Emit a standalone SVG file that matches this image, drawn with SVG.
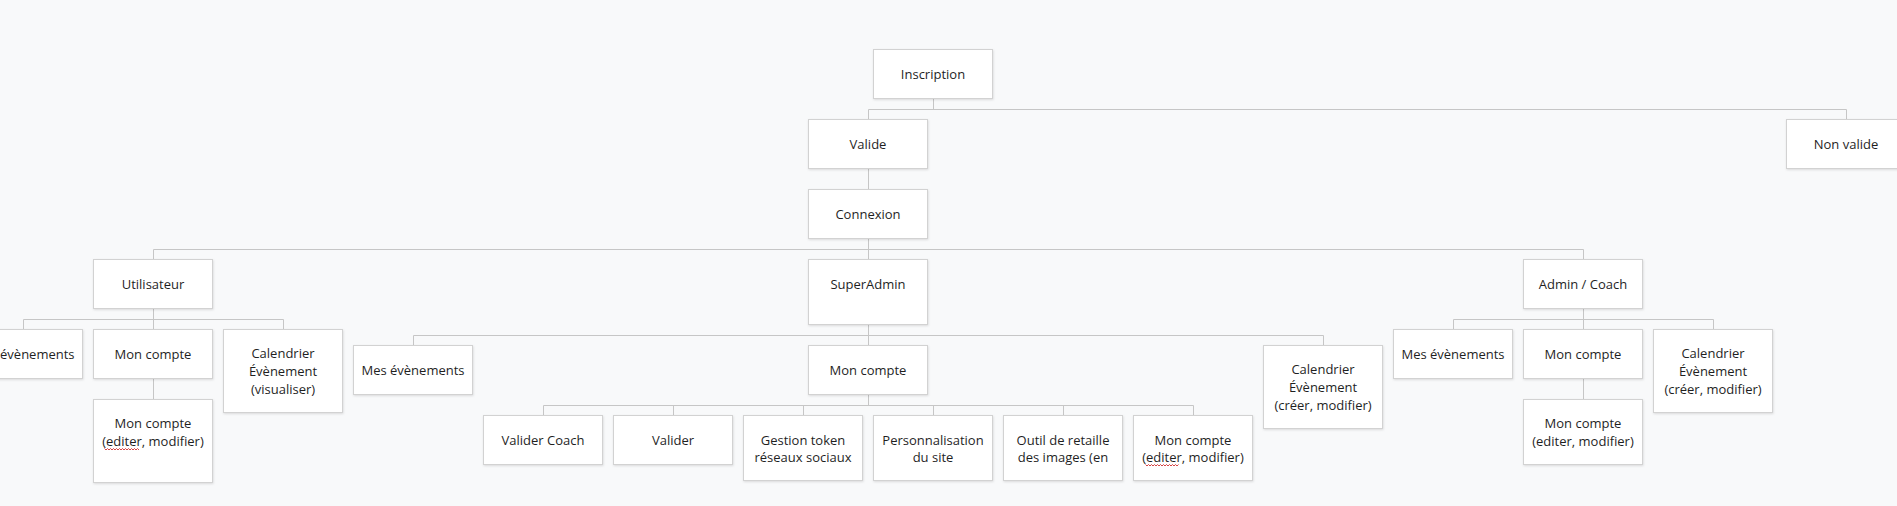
<svg xmlns="http://www.w3.org/2000/svg" width="1897" height="506" viewBox="0 0 1897 506">
<defs>
<style>
.box{fill:#ffffff;stroke:#d2d2d2;stroke-width:1}
.t{font-family:"Open Sans","Noto Sans","Liberation Sans",sans-serif;font-size:13px;fill:#1f1f1f;text-anchor:middle}
.c{fill:none;stroke:#c6c6c6;stroke-width:1}
.sq{fill:none;stroke:#d03030;stroke-width:0.9}
</style>
<filter id="sh" x="-10%" y="-10%" width="130%" height="140%">
<feDropShadow dx="0.5" dy="1" stdDeviation="0.8" flood-color="#000000" flood-opacity="0.12"/>
</filter>
</defs>
<rect x="0" y="0" width="1897" height="506" fill="#f8f9fa"/>
<g id="connectors" class="c">
<path d="M933.5 98.5V109.5M868.5 109.5H1846.5M868.5 109.5V119.5M1846.5 109.5V119.5"/>
<path d="M868.5 168.5V189.5"/>
<path d="M868.5 238.5V249.5M153.5 249.5H1583.5M153.5 249.5V259.5M868.5 249.5V259.5M1583.5 249.5V259.5"/>
<path d="M153.5 308.5V319.5M23.5 319.5H283.5M23.5 319.5V329.5M153.5 319.5V329.5M283.5 319.5V329.5"/>
<path d="M153.5 378.5V399.5"/>
<path d="M868.5 324.5V335.5M413.5 335.5H1323.5M413.5 335.5V345.5M868.5 335.5V345.5M1323.5 335.5V345.5"/>
<path d="M868.5 394.5V405.5M543.5 405.5H1193.5M543.5 405.5V415.5M673.5 405.5V415.5M803.5 405.5V415.5M933.5 405.5V415.5M1063.5 405.5V415.5M1193.5 405.5V415.5"/>
<path d="M1583.5 308.5V319.5M1453.5 319.5H1713.5M1453.5 319.5V329.5M1583.5 319.5V329.5M1713.5 319.5V329.5"/>
<path d="M1583.5 378.5V399.5"/>
</g>
<g id="inscription"><rect class="box" filter="url(#sh)" x="873.5" y="49.5" width="119" height="49"/><text class="t" x="933" y="78.5">Inscription</text></g>
<g id="valide"><rect class="box" filter="url(#sh)" x="808.5" y="119.5" width="119" height="49"/><text class="t" x="868" y="148.5">Valide</text></g>
<g id="non-valide"><rect class="box" filter="url(#sh)" x="1786.5" y="119.5" width="119" height="49"/><text class="t" x="1846" y="148.5">Non valide</text></g>
<g id="connexion"><rect class="box" filter="url(#sh)" x="808.5" y="189.5" width="119" height="49"/><text class="t" x="868" y="218.5">Connexion</text></g>
<g id="utilisateur"><rect class="box" filter="url(#sh)" x="93.5" y="259.5" width="119" height="49"/><text class="t" x="153" y="288.5">Utilisateur</text></g>
<g id="superadmin"><rect class="box" filter="url(#sh)" x="808.5" y="259.5" width="119" height="65"/><text class="t" x="868" y="288.5">SuperAdmin</text></g>
<g id="admin-coach"><rect class="box" filter="url(#sh)" x="1523.5" y="259.5" width="119" height="49"/><text class="t" x="1583" y="288.5">Admin / Coach</text></g>
<g id="u-mes-evenements"><rect class="box" filter="url(#sh)" x="-36.5" y="329.5" width="119" height="49"/><text class="t" x="23" y="358.5">Mes évènements</text></g>
<g id="u-mon-compte"><rect class="box" filter="url(#sh)" x="93.5" y="329.5" width="119" height="49"/><text class="t" x="153" y="358.5">Mon compte</text></g>
<g id="u-calendrier"><rect class="box" filter="url(#sh)" x="223.5" y="329.5" width="119" height="83"/><text class="t" x="283" y="358">Calendrier</text><text class="t" x="283" y="376">Évènement</text><text class="t" x="283" y="394">(visualiser)</text></g>
<g id="u-mon-compte-edit"><rect class="box" filter="url(#sh)" x="93.5" y="399.5" width="119" height="83"/><text class="t" x="153" y="428">Mon compte</text><text class="t" x="153" y="446">(editer, modifier)</text><path class="sq" d="M104.5 448.5l1.5 1.5 1.5-1.5 1.5 1.5 1.5-1.5 1.5 1.5 1.5-1.5 1.5 1.5 1.5-1.5 1.5 1.5 1.5-1.5 1.5 1.5 1.5-1.5 1.5 1.5 1.5-1.5 1.5 1.5 1.5-1.5 1.5 1.5 1.5-1.5 1.5 1.5 1.5-1.5 1.5 1.5 1.5-1.5 1.5 1.5"/></g>
<g id="s-mes-evenements"><rect class="box" filter="url(#sh)" x="353.5" y="345.5" width="119" height="49"/><text class="t" x="413" y="374.5">Mes évènements</text></g>
<g id="s-mon-compte"><rect class="box" filter="url(#sh)" x="808.5" y="345.5" width="119" height="49"/><text class="t" x="868" y="374.5">Mon compte</text></g>
<g id="s-calendrier"><rect class="box" filter="url(#sh)" x="1263.5" y="345.5" width="119" height="83"/><text class="t" x="1323" y="374">Calendrier</text><text class="t" x="1323" y="392">Évènement</text><text class="t" x="1323" y="410">(créer, modifier)</text></g>
<g id="valider-coach"><rect class="box" filter="url(#sh)" x="483.5" y="415.5" width="119" height="49"/><text class="t" x="543" y="444.5">Valider Coach</text></g>
<g id="valider"><rect class="box" filter="url(#sh)" x="613.5" y="415.5" width="119" height="49"/><text class="t" x="673" y="444.5">Valider</text></g>
<g id="gestion-token"><rect class="box" filter="url(#sh)" x="743.5" y="415.5" width="119" height="65"/><text class="t" x="803" y="444.5">Gestion token</text><text class="t" x="803" y="462">réseaux sociaux</text></g>
<g id="personnalisation"><rect class="box" filter="url(#sh)" x="873.5" y="415.5" width="119" height="65"/><text class="t" x="933" y="444.5">Personnalisation</text><text class="t" x="933" y="462">du site</text></g>
<g id="outil-retaille"><rect class="box" filter="url(#sh)" x="1003.5" y="415.5" width="119" height="65"/><text class="t" x="1063" y="444.5">Outil de retaille</text><text class="t" x="1063" y="462">des images (en</text></g>
<g id="s-mon-compte-edit"><rect class="box" filter="url(#sh)" x="1133.5" y="415.5" width="119" height="65"/><text class="t" x="1193" y="444.5">Mon compte</text><text class="t" x="1193" y="462">(editer, modifier)</text><path class="sq" d="M1145.5 464.5l1.5 1.5 1.5-1.5 1.5 1.5 1.5-1.5 1.5 1.5 1.5-1.5 1.5 1.5 1.5-1.5 1.5 1.5 1.5-1.5 1.5 1.5 1.5-1.5 1.5 1.5 1.5-1.5 1.5 1.5 1.5-1.5 1.5 1.5 1.5-1.5 1.5 1.5 1.5-1.5 1.5 1.5 1.5-1.5"/></g>
<g id="a-mes-evenements"><rect class="box" filter="url(#sh)" x="1393.5" y="329.5" width="119" height="49"/><text class="t" x="1453" y="358.5">Mes évènements</text></g>
<g id="a-mon-compte"><rect class="box" filter="url(#sh)" x="1523.5" y="329.5" width="119" height="49"/><text class="t" x="1583" y="358.5">Mon compte</text></g>
<g id="a-calendrier"><rect class="box" filter="url(#sh)" x="1653.5" y="329.5" width="119" height="83"/><text class="t" x="1713" y="358">Calendrier</text><text class="t" x="1713" y="376">Évènement</text><text class="t" x="1713" y="394">(créer, modifier)</text></g>
<g id="a-mon-compte-edit"><rect class="box" filter="url(#sh)" x="1523.5" y="399.5" width="119" height="65"/><text class="t" x="1583" y="428">Mon compte</text><text class="t" x="1583" y="446">(editer, modifier)</text></g>
</svg>
